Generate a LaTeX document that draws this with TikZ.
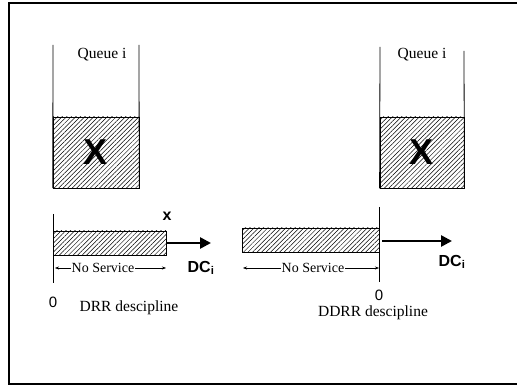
\documentclass[tikz,border=0pt]{standalone}
\usepackage{fontspec}
\setmainfont{Liberation Serif}
\setsansfont{Liberation Sans}
\usetikzlibrary{arrows.meta,patterns.meta}
\tikzset{wall/.style={line width=0.8pt}}
\tikzset{hatch/.style={draw, line width=0.8pt, inner sep=0pt, pattern={Lines[angle=45,distance=3.2pt,line width=0.5pt]}}}
\tikzset{big/.style={font=\sffamily\bfseries\fontsize{36}{36}\selectfont}}
\tikzset{serve/.style={line width=2.6pt, -{Triangle[length=11pt,width=11pt]}}}
\tikzset{span/.style={line width=0.5pt, -{Stealth[length=4pt,width=3pt]}}}
\tikzset{rm/.style={font=\fontsize{15.5}{17}\selectfont}}
\tikzset{ns/.style={inner sep=1pt, font=\fontsize{14}{16}\selectfont}}
\tikzset{sf/.style={font=\sffamily\fontsize{15}{17}\selectfont}}
\tikzset{sfb/.style={font=\sffamily\bfseries\fontsize{16}{18}\selectfont}}
\begin{document}
\begin{tikzpicture}[x=1pt,y=-1pt]
\useasboundingbox (0,0) rectangle (517,387);
\draw[line width=1.4pt] (530,3) -- (9,3) -- (9,384) -- (530,384);
% DRR side
\node[hatch, big, minimum width=86, minimum height=71] (qa) at (96,152.5) {X};
\coordinate (qatl) at (53,45);
\coordinate (qatr) at (139,45);
\draw[wall] (qa.south west) -- (qatl);
\draw[wall] (qa.south east) -- (qatr);
\node[rm] (qla) at (102,55) {Queue i};
\node[hatch, minimum width=113, minimum height=24] (ba) at (109.5,243) {};
\coordinate (axa) at (53,214);
\coordinate (axb) at (53,283);
\draw[wall] (axa) -- (axb);
\coordinate (enda) at (211,243);
\draw[serve] (ba.east) -- (enda);
\node[sfb] (xa) at (167,216) {x};
\node[sfb] (dca) at (201,268) {DC\textsubscript{i}};
\node[ns] (nsa) at (103,268) {No Service};
\coordinate (nsal) at (55,268);
\coordinate (nsar) at (166,268);
\draw[span] (nsa.west) -- (nsal);
\draw[span] (nsa.east) -- (nsar);
\node[sf] (za) at (53,302) {0};
\node[rm] (da) at (129,308) {DRR descipline};
% DDRR side
\node[hatch, big, minimum width=84, minimum height=71] (qb) at (422,152.5) {X};
\coordinate (qbtl) at (380,47);
\coordinate (qbtr) at (464,51);
\draw[wall] (qb.south west) -- (qbtl);
\draw[wall] (qb.south east) -- (qbtr);
\node[rm] (qlb) at (422,55) {Queue i};
\node[hatch, minimum width=137, minimum height=24] (bb) at (310.5,240) {};
\coordinate (bxa) at (379,207);
\coordinate (bxb) at (379,282);
\draw[wall] (bxa) -- (bxb);
\coordinate (startb) at (382,241);
\coordinate (endb) at (452,241);
\draw[serve] (startb) -- (endb);
\node[sfb] (dcb) at (452,262) {DC\textsubscript{i}};
\node[ns] (nsb) at (313,268) {No Service};
\coordinate (nsbl) at (243,268);
\coordinate (nsbr) at (379,268);
\draw[span] (nsb.west) -- (nsbl);
\draw[span] (nsb.east) -- (nsbr);
\node[sf] (zb) at (379,295) {0};
\node[rm] (db) at (373,313) {DDRR descipline};
\end{tikzpicture}
\end{document}
